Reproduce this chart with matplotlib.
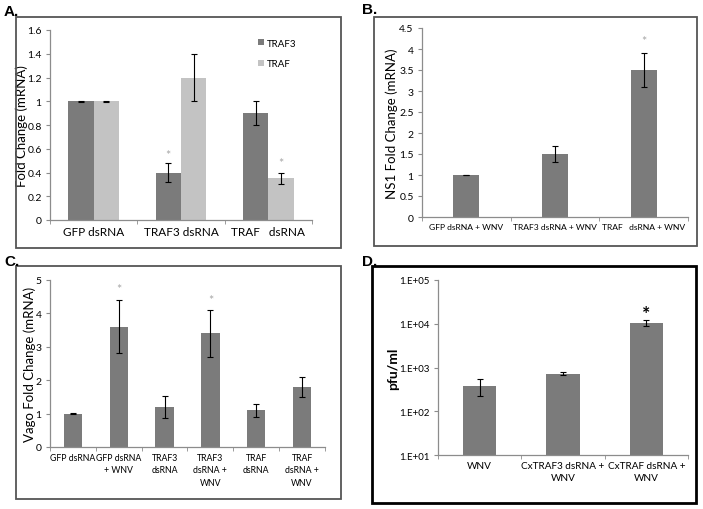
import numpy as np
import matplotlib
matplotlib.use("Agg")
import matplotlib.pyplot as plt
import matplotlib.ticker as ticker
from matplotlib.patches import Rectangle

plt.rcParams['font.family'] = ['Lato', 'DejaVu Sans']

# ---- data ----
a_groups = ["GFP dsRNA", "TRAF3 dsRNA", "TRAF   dsRNA"]
a_traf3 = [1.0, 0.4, 0.9]
a_traf3_err = [0.005, 0.08, 0.1]
a_traf = [1.0, 1.2, 0.35]
a_traf_err = [0.005, 0.2, 0.05]

b_groups = ["GFP dsRNA + WNV", "TRAF3 dsRNA + WNV", "TRAF   dsRNA + WNV"]
b_ns1 = [1.0, 1.5, 3.5]
b_ns1_err = [0.01, 0.2, 0.4]

c_groups = ["GFP dsRNA", "GFP dsRNA\n+ WNV", "TRAF3\ndsRNA", "TRAF3\ndsRNA +\nWNV",
            "TRAF\ndsRNA", "TRAF\ndsRNA +\nWNV"]
c_vago = [1.0, 3.6, 1.2, 3.4, 1.1, 1.8]
c_vago_err = [0.01, 0.8, 0.32, 0.7, 0.2, 0.3]

d_groups = ["WNV", "CxTRAF3 dsRNA +\nWNV", "CxTRAF dsRNA +\nWNV"]
d_pfu = [380, 720, 10500]
d_pfu_err = [160, 60, 1800]

DARK = "#7b7b7b"
LIGHT = "#c3c3c3"
AXC = "#8c8c8c"
STAR = "#a6a6a6"

W, H = 703, 510
fig = plt.figure(figsize=(W / 100, H / 100), dpi=100)


def px_axes(left, right, top, bottom):
    return fig.add_axes([left / W, 1 - bottom / H, (right - left) / W, (bottom - top) / H])


def box(left, right, top, bottom, color, lw):
    fig.patches.append(Rectangle((left / W, 1 - bottom / H), (right - left) / W, (bottom - top) / H,
                                 transform=fig.transFigure, fill=False, edgecolor=color, linewidth=lw))


def style(ax, n):
    for s in ["top", "right"]:
        ax.spines[s].set_visible(False)
    for s in ["left", "bottom"]:
        ax.spines[s].set_color(AXC)
        ax.spines[s].set_linewidth(0.9)
    ax.set_xlim(-0.5, n - 0.5)
    ax.set_xticks(np.arange(n))
    ax.set_xticks(np.arange(n + 1) - 0.5, minor=True)
    ax.tick_params(axis="x", which="major", length=0, labelsize=8, pad=4)
    ax.tick_params(axis="x", which="minor", length=3, color=AXC, direction="out")
    ax.tick_params(axis="y", length=3, color=AXC, direction="out", labelsize=7.5, pad=3)


def ylab(ax, text, edge_px, ax_left, ax_right, **kw):
    # edge_px: right edge (pixels) of the rotated label
    ax.set_ylabel(text, **kw)
    ax.yaxis.set_label_coords((edge_px - ax_left) / (ax_right - ax_left), 0.5)


err_kw = dict(ecolor="black", elinewidth=0.8, capsize=2.5, capthick=0.8)

# ---- A ----
box(16, 341, 18, 249, "#555555", 1.3)
ax = px_axes(50, 312, 31, 221)
x = np.arange(3)
bw = 0.29
ax.bar(x - bw / 2, a_traf3, bw, yerr=a_traf3_err, color=DARK, label="TRAF3", error_kw=err_kw)
ax.bar(x + bw / 2, a_traf, bw, yerr=a_traf_err, color=LIGHT, label="TRAF", error_kw=err_kw)
style(ax, 3)
ax.set_ylim(0, 1.6)
ax.set_yticks(np.arange(0, 1.61, 0.2))
ax.yaxis.set_major_formatter(ticker.FuncFormatter(lambda v, p: "%g" % round(v, 1)))
ax.set_xticklabels(a_groups, fontsize=8.5)
ylab(ax, "Fold Change (mRNA)", 28, 50, 312, fontsize=9.5)
ax.text(1 - bw / 2, 0.55, "*", ha="center", va="center", color=STAR, fontsize=9)
ax.text(2 + bw / 2, 0.48, "*", ha="center", va="center", color=STAR, fontsize=9)
ax.legend(loc="upper left", bbox_to_anchor=(0.76, 1.0), frameon=False, fontsize=7,
          handlelength=0.6, handleheight=0.6, handletextpad=0.3, labelspacing=1.2)

# ---- B ----
box(374, 697, 18, 247, "#555555", 1.3)
ax = px_axes(422, 688, 29, 218)
ax.bar(np.arange(3), b_ns1, 0.29, yerr=b_ns1_err, color=DARK, error_kw=err_kw)
style(ax, 3)
ax.set_ylim(0, 4.5)
ax.set_yticks(np.arange(0, 4.51, 0.5))
ax.yaxis.set_major_formatter(ticker.FuncFormatter(lambda v, p: "%g" % v))
ax.set_xticklabels(b_groups, fontsize=6.1)
ylab(ax, "NS1 Fold Change (mRNA)", 398, 422, 688, fontsize=9.5)
ax.text(2, 4.2, "*", ha="center", va="center", color=STAR, fontsize=9)

# ---- C ----
box(16, 341, 267, 500, "#555555", 1.3)
ax = px_axes(50, 325, 281, 448)
ax.bar(np.arange(6), c_vago, 0.4, yerr=c_vago_err, color=DARK, error_kw=err_kw)
style(ax, 6)
ax.set_ylim(0, 5)
ax.set_yticks(np.arange(0, 6, 1))
ax.set_xticklabels(c_groups, fontsize=6.3, linespacing=1.5)
ylab(ax, "Vago Fold Change (mRNA)", 36, 50, 325, fontsize=9.5)
ax.text(1, 4.72, "*", ha="center", va="center", color=STAR, fontsize=9)
ax.text(3, 4.4, "*", ha="center", va="center", color=STAR, fontsize=9)

# ---- D ----
box(372, 696, 267, 504, "black", 2.0)
ax = px_axes(438, 688, 281, 456)
ax.set_yscale("log")
ax.bar(np.arange(3), d_pfu, 0.4, yerr=d_pfu_err, color=DARK, error_kw=err_kw)
style(ax, 3)
ax.set_ylim(10, 1e5)
ax.set_yticks([10, 100, 1000, 10000, 100000])
ax.yaxis.set_minor_locator(ticker.NullLocator())
ax.yaxis.set_major_formatter(ticker.FuncFormatter(lambda v, p: "1.E+%02d" % round(np.log10(v))))
ax.set_xticklabels(d_groups, fontsize=7.2, linespacing=1.5)
ax.tick_params(axis="y", labelsize=7)
ylab(ax, "pfu/ml", 399, 438, 688, fontsize=10, fontweight="bold")
ax.text(2, 17000, "*", ha="center", va="center", color="black", fontsize=14, fontweight="bold")

# panel letters
for lab, px, py in [("A.", 4, 12), ("B.", 362, 10), ("C.", 4, 262), ("D.", 362, 262)]:
    fig.text(px / W, 1 - py / H, lab, fontsize=11, fontweight="bold",
             family="Liberation Sans", va="center", ha="left")

fig.savefig("out.png", dpi=100)
